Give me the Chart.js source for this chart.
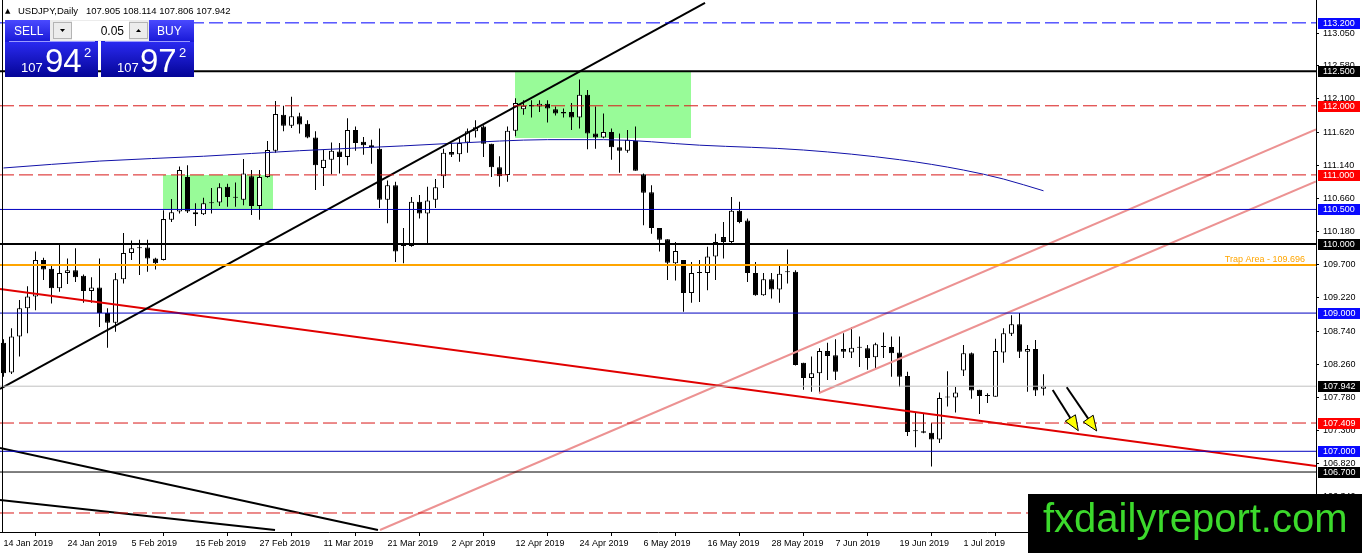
<!DOCTYPE html>
<html>
<head>
<meta charset="utf-8">
<script src="https://cdn.jsdelivr.net/npm/chart.js@4.4.1/dist/chart.umd.min.js"></script>
<style>
html, body { margin: 0; padding: 0; background: #fff; }
#wrap { position: relative; width: 1362px; height: 553px; }
</style>
</head>
<body>
<div id="wrap"><canvas id="candleChart"></canvas></div>
<script>
// daily candles, 14 Jan 2019 .. mid Jul 2019 (bar index 0..130)
var opens = [108.57,108.14,108.66,109.07,109.24,109.77,109.64,109.36,109.58,109.62,
  109.54,109.32,109.37,109.00,108.86,109.49,109.87,109.95,109.95,109.79,
  109.77,110.35,110.47,110.97,110.46,110.43,110.59,110.60,110.83,110.68,
  110.64,110.98,110.55,110.97,111.35,111.87,111.71,111.85,111.74,111.54,
  111.10,111.22,111.34,111.26,111.65,111.48,111.43,111.38,110.64,110.85,
  110.00,109.97,110.61,110.44,110.64,110.98,111.33,111.30,111.47,111.63,
  111.70,111.45,111.11,111.00,111.64,111.95,112.01,111.99,112.03,111.95,
  111.91,111.91,111.83,112.16,111.60,111.54,111.62,111.40,111.35,111.49,
  111.01,110.75,110.23,110.07,109.72,109.77,109.29,109.59,109.58,109.82,
  110.10,110.03,110.48,110.34,109.58,109.26,109.49,109.34,109.60,109.60,
  108.28,108.06,108.13,108.45,108.39,108.48,108.43,108.50,108.49,108.36,
  108.52,108.51,108.43,108.09,107.30,107.29,107.27,107.17,107.78,107.78,
  108.17,108.42,107.89,107.80,107.79,108.43,108.70,108.84,108.44,108.48,
  107.905];
var highs = [108.62,108.78,109.19,109.39,109.89,109.80,109.68,110.01,109.79,109.94,
  109.56,109.52,109.79,109.07,109.58,110.16,110.05,110.06,110.06,109.80,
  110.49,110.65,111.12,111.14,110.59,110.67,110.81,110.88,110.87,110.89,
  111.23,111.07,111.07,111.49,112.07,112.00,112.13,111.90,111.79,111.63,
  111.36,111.47,111.46,111.82,111.70,111.55,111.51,111.67,110.92,110.90,
  110.23,110.68,110.71,110.83,110.94,111.38,111.46,111.53,111.67,111.79,
  111.72,111.45,111.27,111.70,112.11,112.08,112.08,112.08,112.08,111.99,
  111.96,112.04,112.38,112.23,111.99,111.89,111.67,111.60,111.65,111.70,
  111.02,110.85,110.23,110.07,110.03,109.77,109.74,109.77,109.96,110.15,
  110.32,110.68,110.61,110.37,109.74,109.58,109.58,109.68,109.92,109.62,
  108.28,108.37,108.49,108.57,108.62,108.71,108.80,108.66,108.54,108.57,
  108.72,108.66,108.66,108.15,107.57,107.55,107.41,107.85,108.16,107.93,
  108.54,108.43,107.89,107.84,108.63,108.78,108.97,109.00,108.54,108.61,
  108.114];
var lows = [108.08,108.12,108.37,108.71,109.04,109.48,109.14,109.31,109.42,109.45,
  109.15,109.15,108.80,108.50,108.73,109.43,109.77,109.55,109.60,109.63,
  109.76,110.32,110.44,110.45,110.26,110.42,110.44,110.55,110.54,110.54,
  110.56,110.42,110.35,110.96,111.32,111.63,111.68,111.60,111.53,110.78,
  110.84,111.01,111.02,111.14,111.35,111.29,111.16,110.52,110.30,109.74,
  109.72,109.96,110.37,110.01,110.52,110.81,111.26,111.19,111.32,111.54,
  111.26,110.97,110.83,110.90,111.56,111.87,111.83,111.91,111.76,111.86,
  111.83,111.65,111.67,111.37,111.38,111.53,111.22,111.03,111.32,111.06,
  110.27,110.15,109.89,109.48,109.47,109.02,109.15,109.16,109.33,109.48,
  109.79,110.01,110.30,109.45,109.25,109.25,109.21,109.15,109.43,108.24,
  107.89,107.86,107.84,108.03,108.03,108.35,108.35,108.22,108.18,108.19,
  108.35,108.08,107.93,107.22,107.06,107.26,106.78,107.12,107.65,107.56,
  108.09,107.76,107.54,107.70,107.79,108.28,108.67,108.35,107.86,107.80,
  107.806];
var closes = [108.13,108.66,109.07,109.24,109.77,109.63,109.36,109.58,109.62,109.52,
  109.32,109.37,109.00,108.86,109.49,109.87,109.94,109.94,109.79,109.72,
  110.36,110.46,111.07,110.47,110.43,110.59,110.60,110.82,110.68,110.67,
  111.02,110.55,110.97,111.36,111.88,111.71,111.85,111.73,111.54,111.14,
  111.22,111.35,111.26,111.65,111.46,111.43,111.40,110.64,110.85,109.89,
  109.97,110.61,110.44,110.63,110.82,111.32,111.29,111.46,111.63,111.69,
  111.45,111.11,110.98,111.64,112.04,112.00,111.99,112.03,111.96,111.89,
  111.89,111.83,112.16,111.60,111.54,111.62,111.40,111.35,111.51,111.06,
  110.74,110.23,110.06,109.73,109.90,109.29,109.58,109.58,109.82,110.03,
  110.03,110.48,110.32,109.58,109.26,109.49,109.34,109.57,109.59,108.25,
  108.06,108.13,108.45,108.38,108.15,108.44,108.50,108.51,108.35,108.55,
  108.51,108.42,108.08,107.28,107.29,107.27,107.17,107.77,107.79,107.85,
  108.42,107.88,107.80,107.81,108.45,108.71,108.84,108.44,108.48,107.88,
  107.942];

var xTickBars = [0, 8, 16, 24, 32, 40, 48, 56, 64, 72, 80, 88, 96, 104, 112, 120, 128];
var xTickLabels = ['14 Jan 2019', '24 Jan 2019', '5 Feb 2019', '15 Feb 2019', '27 Feb 2019',
  '11 Mar 2019', '21 Mar 2019', '2 Apr 2019', '12 Apr 2019', '24 Apr 2019', '6 May 2019',
  '16 May 2019', '28 May 2019', '7 Jun 2019', '19 Jun 2019', '1 Jul 2019', '11 Jul 2019'];
var yTickValues = [106.34, 106.82, 107.30, 107.78, 108.26, 108.74, 109.22, 109.70,
  110.18, 110.66, 111.14, 111.62, 112.10, 112.58, 113.05];

// moving average, read at a few bars
var maBars = [0, 12, 25, 37, 50, 62, 68, 75, 87, 100, 112, 120, 125, 130];
var maValues = [111.10, 111.20, 111.27, 111.35, 111.42, 111.49, 111.51, 111.51, 111.43,
  111.36, 111.22, 111.07, 110.94, 110.77];

// horizontal levels
var levelValues = [113.2, 112.5, 112.0, 111.0, 110.5, 110.0, 109.696, 109.0, 107.942,
  107.409, 107.0, 106.7, 106.107];

// trend lines: [start, end]
var trendBars = [[-0.44, 87.69], [-0.44, 164.06], [47.06, 164.06], [101.94, 164.06],
  [-0.44, 46.81], [-0.44, 33.94]];
var trendValues = [[107.902, 113.488], [109.35, 106.787], [105.861, 111.658],
  [107.844, 110.906], [107.048, 105.861], [106.295, 105.861]];

// green zones: [left bar, right bar], [top, bottom]
var zoneBars = [[19.94, 33.69], [63.94, 85.94]];
var zoneValues = [[111.0, 110.5], [112.5, 111.53]];

// arrows: start -> tip
var arrowFromBars = [131.15, 132.9];
var arrowFromValues = [107.887, 107.926];
var arrowToBars = [134.35, 136.65];
var arrowToValues = [107.298, 107.294];

var X_MIN = -0.4375, X_MAX = 164.0625;
var Y_MIN = 105.832, Y_MAX = 113.531;
var FONT = 'Liberation Sans';

var levelStyles = [
  {color: '#0000ff', width: 1, dash: [14, 5], box: '#0a0aff'},
  {color: '#000000', width: 2, dash: [], box: '#000000'},
  {color: '#d81818', width: 1, dash: [14, 5], box: '#ff0000'},
  {color: '#d81818', width: 1, dash: [14, 5], box: '#ff0000'},
  {color: '#0000c0', width: 1, dash: [], box: '#0a0aff'},
  {color: '#000000', width: 2, dash: [], box: '#000000'},
  {color: '#ffa500', width: 2, dash: [], box: null},
  {color: '#0000c0', width: 1, dash: [], box: '#0a0aff'},
  {color: '#c0c0c0', width: 1, dash: [], box: '#000000'},
  {color: '#d81818', width: 1, dash: [14, 5], box: '#ff0000'},
  {color: '#0000c0', width: 1, dash: [], box: '#0a0aff'},
  {color: '#000000', width: 1, dash: [], box: '#000000'},
  {color: '#d81818', width: 1, dash: [14, 5], box: null}
];
var trendStyles = [
  {color: '#000000', width: 2},
  {color: '#e00000', width: 2},
  {color: '#ec9292', width: 2},
  {color: '#ec9292', width: 2},
  {color: '#000000', width: 2},
  {color: '#000000', width: 2}
];

var datasets = [];
for (var i = 0; i < levelValues.length; i++) {
  datasets.push({
    type: 'line', order: 0,
    data: [{x: X_MIN, y: levelValues[i]}, {x: X_MAX, y: levelValues[i]}],
    borderColor: levelStyles[i].color, borderWidth: levelStyles[i].width,
    borderDash: levelStyles[i].dash, pointRadius: 0, fill: false
  });
}
for (var t = 0; t < trendBars.length; t++) {
  datasets.push({
    type: 'line', order: 0,
    data: [{x: trendBars[t][0], y: trendValues[t][0]}, {x: trendBars[t][1], y: trendValues[t][1]}],
    borderColor: trendStyles[t].color, borderWidth: trendStyles[t].width,
    pointRadius: 0, fill: false
  });
}
datasets.push({
  type: 'line', order: 0,
  data: maBars.map(function (b, k) { return {x: b, y: maValues[k]}; }),
  borderColor: '#1212a8', borderWidth: 1, pointRadius: 0, fill: false,
  cubicInterpolationMode: 'monotone'
});
datasets.push({
  type: 'bar', order: 5, grouped: false,
  data: opens.map(function (o, k) { return {x: k, y: [o, closes[k]]}; }),
  backgroundColor: opens.map(function (o, k) { return closes[k] >= o ? '#ffffff' : '#000000'; }),
  borderColor: '#000000', borderWidth: 1, borderSkipped: false,
  maxBarThickness: 5, barThickness: 5, minBarLength: 1, inflateAmount: 0
});
datasets.push({
  type: 'bar', order: 6, grouped: false,
  data: lows.map(function (l, k) { return {x: k, y: [l, highs[k]]}; }),
  backgroundColor: '#000000', borderWidth: 0,
  maxBarThickness: 1, barThickness: 1, inflateAmount: 0
});

var zonePlugin = {
  id: 'zones',
  beforeDatasetsDraw: function (chart) {
    var ctx = chart.ctx, xs = chart.scales.x, ys = chart.scales.y, a = chart.chartArea;
    ctx.save();
    ctx.beginPath(); ctx.rect(a.left, a.top, a.right - a.left, a.bottom - a.top); ctx.clip();
    ctx.fillStyle = '#98fb98';
    for (var z = 0; z < zoneBars.length; z++) {
      var x1 = Math.round(xs.getPixelForValue(zoneBars[z][0]));
      var x2 = Math.round(xs.getPixelForValue(zoneBars[z][1]));
      var y1 = Math.round(ys.getPixelForValue(zoneValues[z][0]));
      var y2 = Math.round(ys.getPixelForValue(zoneValues[z][1]));
      ctx.fillRect(x1, y1, x2 - x1, y2 - y1);
    }
    ctx.restore();
  }
};

function drawArrow(ctx, x1, y1, x2, y2) {
  var dx = x2 - x1, dy = y2 - y1, len = Math.sqrt(dx * dx + dy * dy);
  var ux = dx / len, uy = dy / len, px = -uy, py = ux;
  var bx = x2 - ux * 15, by = y2 - uy * 15;
  ctx.strokeStyle = '#000'; ctx.lineWidth = 2;
  ctx.beginPath(); ctx.moveTo(x1, y1); ctx.lineTo(bx, by); ctx.stroke();
  ctx.beginPath();
  ctx.moveTo(x2, y2);
  ctx.lineTo(bx + px * 6, by + py * 6);
  ctx.lineTo(bx - px * 6, by - py * 6);
  ctx.closePath();
  ctx.fillStyle = '#ffff00'; ctx.fill();
  ctx.lineWidth = 1; ctx.stroke();
}

function drawPanel(ctx) {
  var g1 = ctx.createLinearGradient(0, 20, 0, 41);
  g1.addColorStop(0, '#4a4aff'); g1.addColorStop(1, '#1a1ad8');
  var g2 = ctx.createLinearGradient(0, 42, 0, 77);
  g2.addColorStop(0, '#2a2af0'); g2.addColorStop(1, '#040496');
  ctx.fillStyle = g1;
  ctx.fillRect(5, 20, 93, 22);
  ctx.fillRect(101, 20, 93, 22);
  ctx.fillStyle = g2;
  ctx.fillRect(5, 42, 93, 35);
  ctx.fillRect(101, 42, 93, 35);
  ctx.strokeStyle = '#9a9aff'; ctx.lineWidth = 1;
  ctx.beginPath();
  ctx.moveTo(9, 41.5); ctx.lineTo(95, 41.5);
  ctx.moveTo(105, 41.5); ctx.lineTo(190, 41.5);
  ctx.stroke();
  // lot spinner
  ctx.fillStyle = '#ececec'; ctx.fillRect(50, 20, 99, 21);
  ctx.fillStyle = '#ffffff'; ctx.fillRect(72, 21, 57, 19);
  ctx.strokeStyle = '#b4b4b4';
  ctx.strokeRect(53.5, 22.5, 18, 16);
  ctx.strokeRect(129.5, 22.5, 18, 16);
  ctx.fillStyle = '#000';
  ctx.beginPath(); ctx.moveTo(60, 29); ctx.lineTo(65, 29); ctx.lineTo(62.5, 32); ctx.closePath(); ctx.fill();
  ctx.beginPath(); ctx.moveTo(136, 32); ctx.lineTo(141, 32); ctx.lineTo(138.5, 29); ctx.closePath(); ctx.fill();
  ctx.font = '12px ' + FONT; ctx.textBaseline = 'alphabetic';
  ctx.textAlign = 'right'; ctx.fillText('0.05', 124, 35);
  ctx.fillStyle = '#fff'; ctx.textAlign = 'left';
  ctx.font = '12px ' + FONT;
  ctx.fillText('SELL', 14, 35);
  ctx.fillText('BUY', 157, 35);
  ctx.font = '13px ' + FONT;
  ctx.fillText('107', 21, 72);
  ctx.fillText('107', 117, 72);
  ctx.font = '33px ' + FONT;
  ctx.fillText('94', 45, 72);
  ctx.fillText('97', 140, 72);
  ctx.font = '13px ' + FONT;
  ctx.fillText('2', 84, 57);
  ctx.fillText('2', 179, 57);
}

var overlayPlugin = {
  id: 'overlay',
  afterDraw: function (chart) {
    var ctx = chart.ctx, xs = chart.scales.x, ys = chart.scales.y, a = chart.chartArea;
    ctx.save();
    // left frame
    ctx.strokeStyle = '#000'; ctx.lineWidth = 1;
    ctx.beginPath(); ctx.moveTo(2.5, a.top); ctx.lineTo(2.5, a.bottom); ctx.stroke();
    // arrows
    for (var r = 0; r < arrowFromBars.length; r++) {
      drawArrow(ctx, xs.getPixelForValue(arrowFromBars[r]), ys.getPixelForValue(arrowFromValues[r]),
        xs.getPixelForValue(arrowToBars[r]), ys.getPixelForValue(arrowToValues[r]));
    }
    // trap area caption
    ctx.font = '9px ' + FONT; ctx.fillStyle = '#ffa500';
    ctx.textAlign = 'right'; ctx.textBaseline = 'alphabetic';
    ctx.fillText('Trap Area - 109.696', a.right - 11, ys.getPixelForValue(109.696) - 3);
    // price boxes on the right axis
    ctx.textAlign = 'left'; ctx.textBaseline = 'middle';
    for (var i = 0; i < levelValues.length; i++) {
      if (!levelStyles[i].box) continue;
      var y = Math.round(ys.getPixelForValue(levelValues[i]));
      ctx.fillStyle = levelStyles[i].box;
      ctx.fillRect(a.right + 2, y - 5, 42, 11);
      ctx.fillStyle = '#fff';
      ctx.fillText(levelValues[i].toFixed(3), a.right + 7, y + 0.5);
    }
    // header line
    ctx.fillStyle = '#000'; ctx.textBaseline = 'alphabetic';
    ctx.font = '7px DejaVu Sans';
    ctx.fillText('\u25B2', 5, 13);
    ctx.font = '9.5px ' + FONT;
    ctx.fillText('USDJPY,Daily', 18, 14);
    ctx.fillText(opens[130].toFixed(3) + ' ' + highs[130].toFixed(3) + ' ' +
      lows[130].toFixed(3) + ' ' + closes[130].toFixed(3), 86, 14);
    drawPanel(ctx);
    // watermark
    ctx.fillStyle = '#000';
    ctx.fillRect(1028, 494, 334, 59);
    ctx.fillStyle = '#3cd92c';
    ctx.font = '40px ' + FONT;
    ctx.textAlign = 'left'; ctx.textBaseline = 'alphabetic';
    ctx.fillText('fxdailyreport.com', 1043, 532);
    ctx.restore();
  }
};

var ctx1 = document.getElementById('candleChart').getContext('2d');
var candleChart = new Chart(ctx1, {
  type: 'bar',
  data: { datasets: datasets },
  options: {
    responsive: true,
    maintainAspectRatio: false,
    animation: false,
    layout: { padding: 0 },
    plugins: { legend: { display: false }, tooltip: { enabled: false } },
    scales: {
      x: {
        type: 'linear', min: X_MIN, max: X_MAX, offset: false, bounds: 'data',
        grid: { drawOnChartArea: false, drawTicks: true, tickLength: 4, color: '#000' },
        border: { display: true, color: '#000', width: 1 },
        ticks: {
          autoSkip: false, maxRotation: 0, align: 'start', padding: 2, color: '#000',
          font: { family: FONT, size: 9 },
          callback: function (v, idx) { return xTickLabels[idx]; }
        },
        afterBuildTicks: function (s) { s.ticks = xTickBars.map(function (b) { return {value: b}; }); },
        afterFit: function (s) { s.height = 21; s.paddingLeft = 0; s.paddingRight = 0; }
      },
      y: {
        type: 'linear', position: 'right', min: Y_MIN, max: Y_MAX, bounds: 'data',
        grid: { drawOnChartArea: false, drawTicks: true, tickLength: 3, color: '#000' },
        border: { display: true, color: '#000', width: 1 },
        ticks: {
          padding: 4, color: '#000', font: { family: FONT, size: 9 },
          callback: function (v) { return Number(v).toFixed(3); }
        },
        afterBuildTicks: function (s) { s.ticks = yTickValues.map(function (v) { return {value: v}; }); },
        afterFit: function (s) { s.width = 46; s.paddingTop = 0; s.paddingBottom = 0; }
      }
    }
  },
  plugins: [zonePlugin, overlayPlugin]
});
</script>
</body>
</html>
